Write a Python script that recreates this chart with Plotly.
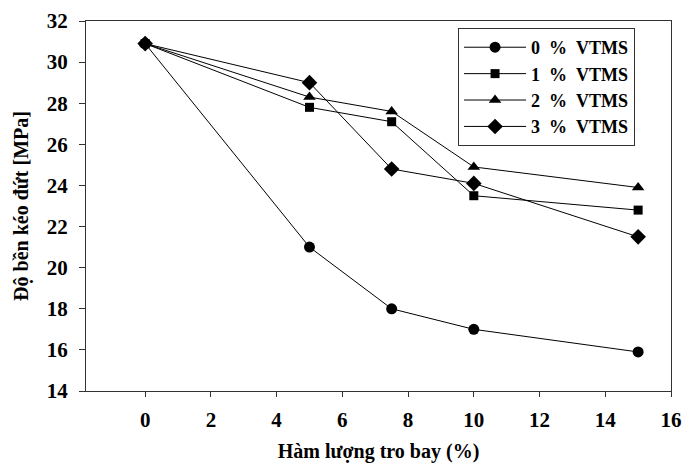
import plotly.graph_objects as go

fly_ash = [0, 5, 7.5, 10, 15]
vtms_0 = [30.9, 21.0, 18.0, 17.0, 15.9]
vtms_1 = [30.9, 27.8, 27.1, 23.5, 22.8]
vtms_2 = [30.9, 28.3, 27.6, 24.9, 23.9]
vtms_3 = [30.9, 29.0, 24.8, 24.1, 21.5]
series_names = ["0 % VTMS", "1 % VTMS", "2 % VTMS", "3 % VTMS"]
x_ticks = list(range(0, 17, 2))
y_ticks = list(range(14, 33, 2))

symbols = ["circle", "square", "triangle-up", "diamond"]
sizes = [11, 9, 11, 12]

fig = go.Figure()
for name, ys, sym, sz in zip(series_names, [vtms_0, vtms_1, vtms_2, vtms_3], symbols, sizes):
    fig.add_trace(go.Scatter(
        x=fly_ash, y=ys, name="<b>" + name.replace(" ", "\u00a0\u00a0") + "</b>",
        mode="lines+markers",
        line=dict(color="black", width=1),
        marker=dict(symbol=sym, size=sz, color="black"),
    ))

tickfont = dict(family="Liberation Serif", size=21, color="black")
titlefont = dict(family="Liberation Serif", size=20, color="black")

fig.update_layout(
    width=683, height=463,
    margin=dict(l=86, r=12, t=21, b=72),
    paper_bgcolor="white", plot_bgcolor="white",
    font=dict(family="Liberation Serif", color="black"),
    showlegend=True,
    legend=dict(
        x=0.636, y=0.981, xanchor="left", yanchor="top",
        bordercolor="#333333", borderwidth=1, bgcolor="white",
        font=dict(family="Liberation Serif", size=18, color="black"),
        itemwidth=62, tracegroupgap=0,
    ),
    xaxis=dict(
        range=[-1.8, 16], tickvals=x_ticks, ticktext=["<b>%d</b>" % v for v in x_ticks],
        showgrid=False, zeroline=False,
        showline=True, linecolor="#333333", linewidth=1, mirror=True,
        ticks="outside", ticklen=5, tickcolor="#333333",
        tickfont=tickfont, ticklabelstandoff=5, automargin=False,
        title=dict(text="<b>Hàm lượng tro bay (%)</b>", font=titlefont, standoff=20),
    ),
    yaxis=dict(
        range=[14, 32], tickvals=y_ticks, ticktext=["<b>%d</b>" % v for v in y_ticks],
        showgrid=False, zeroline=False,
        showline=True, linecolor="#333333", linewidth=1, mirror=True,
        ticks="outside", ticklen=6, tickcolor="#333333",
        tickfont=tickfont, ticklabelstandoff=7, automargin=False,
        title=dict(text="<b>Độ bền kéo đứt [MPa]</b>", font=titlefont, standoff=12),
    ),
)

fig.write_html(
    "out.html",
    config={"displayModeBar": False},
    post_script="document.body.style.margin='0';document.body.style.overflow='hidden';",
)
